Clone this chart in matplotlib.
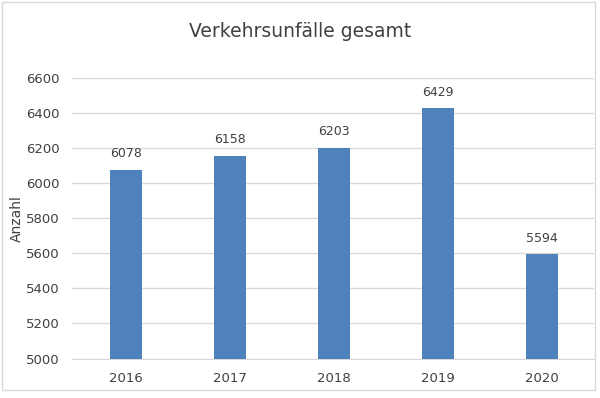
import matplotlib

matplotlib.use("Agg")
import matplotlib.pyplot as plt
from matplotlib.patches import Rectangle

# data
years = ["2016", "2017", "2018", "2019", "2020"]
accidents = [6078, 6158, 6203, 6429, 5594]
yticks = [5000, 5200, 5400, 5600, 5800, 6000, 6200, 6400, 6600]

BAR = "#4F81BD"
TEXT = "#404040"
GRID = "#D9D9D9"

fig = plt.figure(figsize=(6.0, 3.98), dpi=100)
fig.patch.set_facecolor("white")

# chart border
fig.add_artist(
    Rectangle(
        (2 / 600, 8 / 398),
        593 / 600,
        388 / 398,
        transform=fig.transFigure,
        fill=False,
        edgecolor=GRID,
        linewidth=1,
    )
)

ax = fig.add_axes([0.12, 0.0992, 0.87, 0.7041])
x = range(len(years))
bars = ax.bar(x, accidents, width=0.31, color=BAR, zorder=3)

for xi, v in zip(x, accidents):
    ax.annotate(
        str(v),
        (xi, v),
        xytext=(0, 7),
        textcoords="offset points",
        ha="center",
        va="bottom",
        fontsize=9,
        color=TEXT,
    )

ax.set_ylim(5000, 6600)
ax.set_xlim(-0.52, 4.5)
ax.set_yticks(yticks)
ax.set_xticks(list(x))
ax.set_xticklabels(years)
ax.yaxis.grid(True, color=GRID, linewidth=1, zorder=0)
ax.set_axisbelow(True)
for s in ["top", "right", "left"]:
    ax.spines[s].set_visible(False)
ax.spines["bottom"].set_color(GRID)
ax.tick_params(axis="both", length=0, labelsize=9.5, labelcolor=TEXT)
ax.tick_params(axis="y", pad=9)
ax.tick_params(axis="x", pad=10)
ax.set_ylabel("Anzahl", fontsize=10, color=TEXT)
ax.yaxis.set_label_coords(-0.093, 0.5)

fig.text(0.5, 0.92, "Verkehrsunfälle gesamt", ha="center", va="center",
         fontsize=13.5, color=TEXT)

fig.savefig("out.png", dpi=100, facecolor="white")
